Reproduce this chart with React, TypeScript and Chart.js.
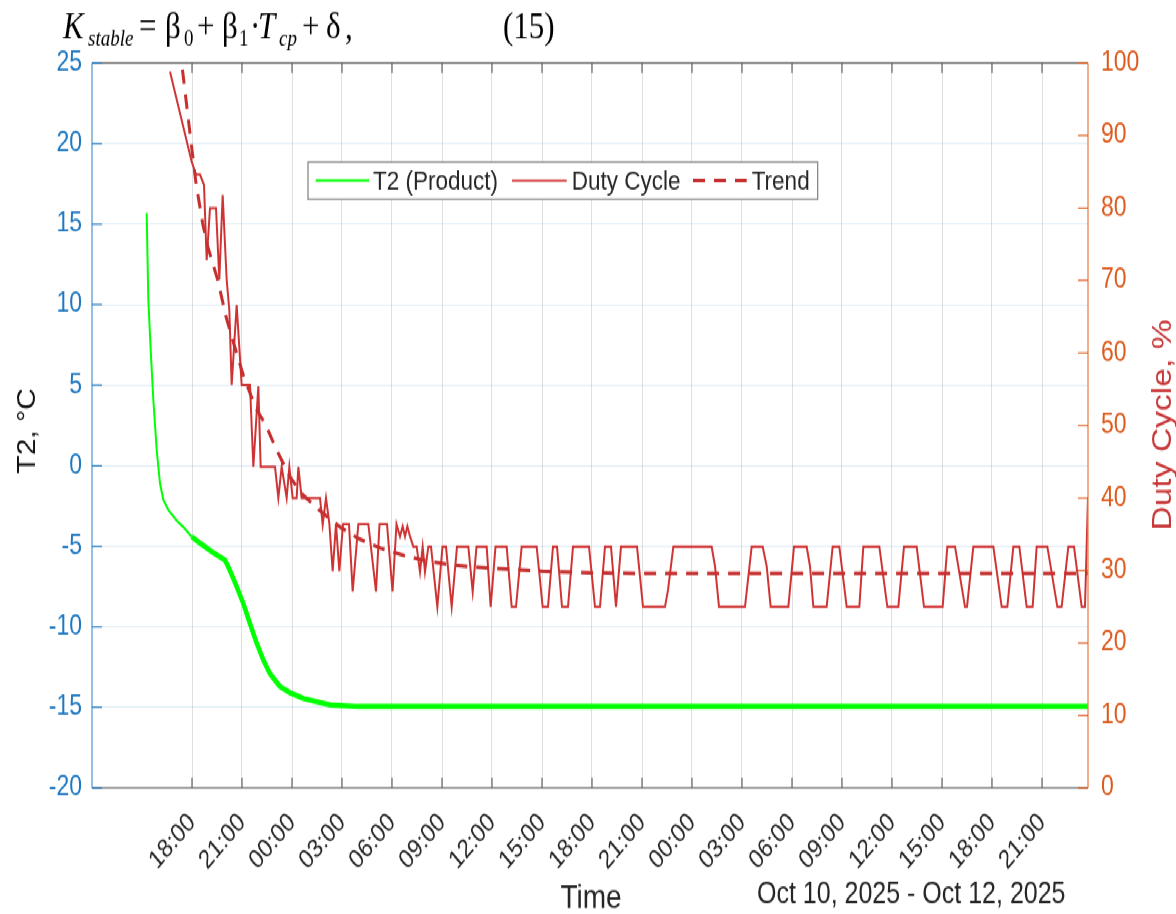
import React, { useEffect, useRef } from 'react';
import { Chart, registerables } from 'chart.js';

Chart.register(...registerables);

// ---------------- data (time = hours since Oct 10, 2025 00:00) ----------------
const tempTimes = [15.28, 15.38, 15.52, 15.68, 15.88, 16.08, 16.28, 16.58, 17.08, 17.48, 17.98, 18.48, 19.28, 19.98, 20.28, 20.68, 21.08, 21.48, 21.88, 22.28, 22.68, 23.28, 23.88, 24.68, 25.48, 26.28, 28.0, 71.76];
const tempValues = [15.7, 10.3, 7.2, 4.1, 1.0, -1.1, -2.1, -2.75, -3.4, -3.8, -4.4, -4.8, -5.4, -5.85, -6.5, -7.5, -8.55, -9.8, -11.0, -12.05, -12.9, -13.7, -14.1, -14.45, -14.65, -14.85, -14.95, -14.95];

const dutyTimes = [16.68, 17.98, 18.24, 18.48, 18.72, 18.88, 19.08, 19.44, 19.64, 19.84, 20.08, 20.24, 20.38, 20.68, 20.98, 21.48, 21.68, 21.98, 22.12, 22.98, 23.18, 23.38, 23.68, 23.84, 24.04, 24.28, 24.38, 24.58, 25.68, 25.84, 26.04, 26.24, 26.44, 26.64, 26.84, 27.06, 27.42, 27.64, 27.98, 28.58, 29.04, 29.25, 29.7, 30.03, 30.27, 30.48, 30.64, 30.78, 30.92, 31.08, 31.28, 31.48, 31.68, 31.84, 31.98, 32.18, 32.34, 32.72, 33.03, 33.24, 33.58, 33.9, 34.58, 34.84, 35.07, 35.68, 35.92, 36.21, 36.88, 37.18, 37.44, 37.78, 38.68, 39.04, 39.36, 39.66, 39.9, 40.2, 40.56, 40.86, 41.82, 42.18, 42.48, 42.78, 43.14, 43.44, 43.74, 44.7, 45.06, 46.38, 46.56, 46.88, 49.18, 49.38, 49.62, 51.18, 51.58, 52.24, 52.48, 52.72, 53.78, 54.12, 54.88, 55.08, 55.28, 56.08, 56.44, 56.84, 57.28, 58.04, 58.28, 59.24, 59.72, 60.38, 60.72, 61.48, 61.92, 63.04, 63.32, 63.78, 64.38, 64.5, 64.88, 66.08, 66.58, 66.92, 67.28, 67.64, 68.08, 68.44, 68.68, 69.32, 69.92, 70.18, 70.58, 70.92, 71.38, 71.58, 71.76];
const dutyValues = [98.8, 86.4, 84.6, 84.6, 83.2, 72.8, 80.0, 80.0, 70.1, 81.8, 70.1, 65.9, 55.6, 66.6, 55.6, 55.6, 44.3, 55.4, 44.3, 44.3, 40.0, 44.3, 40.0, 44.3, 40.0, 40.0, 44.3, 40.0, 40.0, 36.3, 40.0, 36.5, 29.9, 36.4, 29.9, 36.4, 36.4, 27.1, 36.4, 36.4, 27.1, 36.4, 36.4, 27.1, 36.4, 34.7, 36.1, 34.7, 36.1, 34.7, 33.3, 33.3, 29.8, 33.3, 29.8, 33.3, 33.3, 25.0, 33.3, 33.3, 25.0, 33.3, 33.3, 27.1, 33.3, 33.3, 25.0, 33.3, 33.3, 25.0, 25.0, 33.3, 33.3, 25.0, 25.0, 33.3, 33.3, 25.0, 25.0, 33.3, 33.3, 25.0, 25.0, 33.3, 33.3, 25.0, 33.3, 33.3, 25.0, 25.0, 27.3, 33.3, 33.3, 30.6, 25.0, 25.0, 33.3, 33.3, 30.6, 25.0, 25.0, 33.3, 33.3, 30.6, 25.0, 25.0, 33.3, 33.3, 25.0, 25.0, 33.3, 33.3, 25.0, 25.0, 33.3, 33.3, 25.0, 25.0, 33.3, 33.3, 25.0, 25.0, 33.3, 33.3, 25.0, 25.0, 33.3, 33.3, 25.0, 25.0, 33.3, 33.3, 25.0, 25.0, 33.3, 33.3, 25.0, 25.0, 40.1];

const trendTimes = [17.16, 17.38, 17.88, 18.24, 18.64, 18.94, 19.54, 20.04, 20.44, 21.04, 21.8, 22.4, 23.08, 23.88, 24.58, 25.6, 26.88, 28.0, 29.3, 30.7, 32.1, 33.5, 34.8, 36.2, 37.6, 39.0, 41.9, 45.3, 71.76];
const trendValues = [106, 100, 90.3, 83.4, 77.9, 74.7, 70.1, 65.0, 61.8, 57.2, 52.5, 50.2, 46.6, 42.9, 40.6, 38.4, 36.0, 34.4, 33.1, 32.1, 31.3, 30.8, 30.5, 30.3, 30.1, 29.9, 29.7, 29.6, 29.6];

const xTickHours = [18, 21, 24, 27, 30, 33, 36, 39, 42, 45, 48, 51, 54, 57, 60, 63, 66, 69];
const xTickLabels = ['18:00', '21:00', '00:00', '03:00', '06:00', '09:00', '12:00', '15:00', '18:00', '21:00', '00:00', '03:00', '06:00', '09:00', '12:00', '15:00', '18:00', '21:00'];
const seriesLabels = ['T2 (Product)', 'Duty Cycle', 'Trend'];
const xRange = [12, 71.76];
const leftRange = [-20, 25];
const rightRange = [0, 100];

// ---------------- styling ----------------
const W = 1176;
const H = 762;
const SY = 914 / H; // the picture is stretched vertically
const SANS = "'Liberation Sans', Arial, Helvetica, sans-serif";
const SERIF = "'Liberation Serif', 'Times New Roman', serif";
const GREEN = '#00ff00';
const RED = '#cf3434';
const TREND = '#c62f2f';
const BLUE = '#1f78c1';
const ORANGE = '#dc5a1c';
const TEXT = '#262626';

const toXY = (xs: number[], ys: number[]) => xs.map((x, i) => ({ x, y: ys[i] }));

const overlayPlugin = {
  id: 'overlay',
  afterDraw(chart: any) {
    const ctx: CanvasRenderingContext2D = chart.ctx;
    const { left, right, top, bottom } = chart.chartArea;
    const xs = chart.scales.x;
    const ys = chart.scales.y;
    const ys1 = chart.scales.y1;
    const line = (x0: number, y0: number, x1: number, y1: number) => {
      ctx.beginPath();
      ctx.moveTo(x0, y0);
      ctx.lineTo(x1, y1);
      ctx.stroke();
    };
    ctx.save();
    // box
    ctx.lineWidth = 1.3;
    ctx.strokeStyle = '#7a7a7a';
    line(left, top, right, top);
    line(left, bottom, right, bottom);
    ctx.strokeStyle = '#5b9bd5';
    line(left, top, left, bottom);
    ctx.strokeStyle = '#e8844a';
    line(right, top, right, bottom);
    // inward ticks
    const tlv = 10 / SY;
    ctx.strokeStyle = '#555555';
    ctx.lineWidth = 1.1;
    xTickHours.forEach((v) => {
      const px = xs.getPixelForValue(v);
      line(px, top, px, top + tlv);
      line(px, bottom, px, bottom - tlv);
    });
    ctx.strokeStyle = BLUE;
    ys.ticks.forEach((t: any) => {
      const py = ys.getPixelForValue(t.value);
      line(left, py, left + 10, py);
    });
    ctx.strokeStyle = ORANGE;
    ys1.ticks.forEach((t: any) => {
      const py = ys1.getPixelForValue(t.value);
      line(right - 10, py, right, py);
    });

    // legend
    const ds = chart.data.datasets;
    const lx0 = 308, ly0 = 162 / SY, lx1 = 817.7, ly1 = 199.3 / SY;
    ctx.fillStyle = '#ffffff';
    ctx.fillRect(lx0, ly0, lx1 - lx0, ly1 - ly0);
    ctx.strokeStyle = '#7f7f7f';
    ctx.lineWidth = 1.2;
    ctx.strokeRect(lx0, ly0, lx1 - lx0, ly1 - ly0);
    const cy = (ly0 + ly1) / 2;
    const items = [
      { a: 315.7, b: 369, t: 373, w: 2 },
      { a: 512, b: 566.7, t: 571.7, w: 1.6 },
      { a: 693, b: 746.7, t: 751.7, w: 3 },
    ];
    ctx.font = `22.5px ${SANS}`;
    ctx.textBaseline = 'middle';
    ctx.textAlign = 'left';
    items.forEach((it, i) => {
      ctx.strokeStyle = ds[i].borderColor;
      ctx.lineWidth = it.w;
      ctx.setLineDash(ds[i].borderDash || []);
      line(it.a, cy, it.b, cy);
      ctx.setLineDash([]);
      ctx.fillStyle = TEXT;
      ctx.fillText(ds[i].label, it.t, cy + 1);
    });

    // axis titles
    ctx.save();
    ctx.translate(28, 431 / SY);
    ctx.rotate(-Math.PI / 2);
    ctx.font = `25px ${SANS}`;
    ctx.fillStyle = '#111111';
    ctx.textAlign = 'center';
    ctx.textBaseline = 'middle';
    ctx.fillText('T2, °C', 0, 0);
    ctx.restore();

    ctx.save();
    ctx.translate(1163, 425 / SY);
    ctx.rotate(-Math.PI / 2);
    ctx.font = `28px ${SANS}`;
    ctx.fillStyle = '#c83737';
    ctx.textAlign = 'center';
    ctx.textBaseline = 'middle';
    ctx.fillText('Duty Cycle, %', 0, 0);
    ctx.restore();

    ctx.fillStyle = TEXT;
    ctx.textBaseline = 'alphabetic';
    ctx.textAlign = 'center';
    ctx.font = `28px ${SANS}`;
    ctx.fillText('Time', 591, 908 / SY);
    ctx.textAlign = 'left';
    ctx.font = `25px ${SANS}`;
    ctx.fillText('Oct 10, 2025 - Oct 12, 2025', 757, 903 / SY);

    // formula above the chart
    ctx.fillStyle = '#000000';
    const base = 38 / SY;
    const sub = 45 / SY;
    const parts: [string, number, number, boolean, number][] = [
      ['K', 63, 31, true, base],
      ['stable', 88, 19, true, sub],
      ['=', 139, 31, false, base],
      ['\u03B2', 165, 31, false, base],
      ['0', 184, 19, false, sub],
      ['+', 197, 31, false, base],
      ['\u03B2', 222, 31, false, base],
      ['1', 239, 19, false, sub],
      ['\u00B7', 250, 31, false, base],
      ['T', 258, 31, true, base],
      ['cp', 279, 19, true, sub],
      ['+', 302, 31, false, base],
      ['\u03B4', 326, 31, false, base],
      [',', 345, 31, false, base],
      ['(15)', 503, 31, false, base],
    ];
    parts.forEach(([s, x, size, it, by]) => {
      ctx.font = `${it ? 'italic ' : ''}${size}px ${SERIF}`;
      ctx.fillText(s, x, by);
    });
    ctx.restore();
  },
};

export default function App() {
  const ref = useRef<HTMLCanvasElement>(null);
  useEffect(() => {
    if (!ref.current) return;
    const chart = new Chart(ref.current, {
      type: 'line',
      data: {
        datasets: [
          {
            label: seriesLabels[0],
            data: toXY(tempTimes, tempValues),
            yAxisID: 'y',
            borderColor: GREEN,
            borderWidth: 2,
            pointRadius: 0,
            tension: 0,
            order: 2,
            segment: {
              borderWidth: (c: any) => (c.p0.parsed.x < 17.6 ? 2 : 4.5),
            },
          } as any,
          {
            label: seriesLabels[1],
            data: toXY(dutyTimes, dutyValues),
            yAxisID: 'y1',
            borderColor: RED,
            borderWidth: 2,
            pointRadius: 0,
            tension: 0,
            order: 1,
          },
          {
            label: seriesLabels[2],
            data: toXY(trendTimes, trendValues),
            yAxisID: 'y1',
            borderColor: TREND,
            borderWidth: 3,
            borderDash: [12, 9],
            pointRadius: 0,
            tension: 0,
            order: 0,
          },
        ],
      },
      options: {
        responsive: false,
        animation: false,
        devicePixelRatio: 1,
        layout: { padding: { top: 63 / SY, left: 0, right: 0, bottom: 0 } },
        plugins: { legend: { display: false }, tooltip: { enabled: false }, title: { display: false } },
        scales: {
          x: {
            type: 'linear',
            position: 'bottom',
            min: xRange[0],
            max: xRange[1],
            afterBuildTicks: (s: any) => {
              s.ticks = xTickHours.map((v) => ({ value: v }));
            },
            afterFit: (s: any) => {
              s.height = H - 788 / SY;
            },
            grid: { color: 'rgba(38,38,50,0.14)', drawTicks: false, lineWidth: 1 },
            border: { display: false },
            ticks: {
              autoSkip: false,
              minRotation: 45,
              maxRotation: 45,
              padding: 16,
              color: TEXT,
              font: { family: SANS, size: 22 },
              callback: (_v: any, i: number) => xTickLabels[i],
            },
          },
          y: {
            type: 'linear',
            position: 'left',
            min: leftRange[0],
            max: leftRange[1],
            afterFit: (s: any) => {
              s.width = 92;
            },
            grid: { color: 'rgba(0,114,189,0.13)', drawTicks: false, lineWidth: 1 },
            border: { display: false },
            ticks: { stepSize: 5, padding: 10, color: BLUE, font: { family: SANS, size: 23 } },
          },
          y1: {
            type: 'linear',
            position: 'right',
            min: rightRange[0],
            max: rightRange[1],
            afterFit: (s: any) => {
              s.width = W - 1088;
            },
            grid: { drawOnChartArea: false, drawTicks: false },
            border: { display: false },
            ticks: { stepSize: 10, padding: 13, color: ORANGE, font: { family: SANS, size: 23 } },
          },
        },
      },
      plugins: [overlayPlugin],
    } as any);
    return () => chart.destroy();
  }, []);
  return (
    <div
      style={{
        position: 'absolute',
        left: 0,
        top: 0,
        width: W,
        height: H,
        background: '#ffffff',
        transform: `scaleY(${SY})`,
        transformOrigin: '0 0',
      }}
    >
      <canvas ref={ref} width={W} height={H} style={{ display: 'block' }} />
    </div>
  );
}
